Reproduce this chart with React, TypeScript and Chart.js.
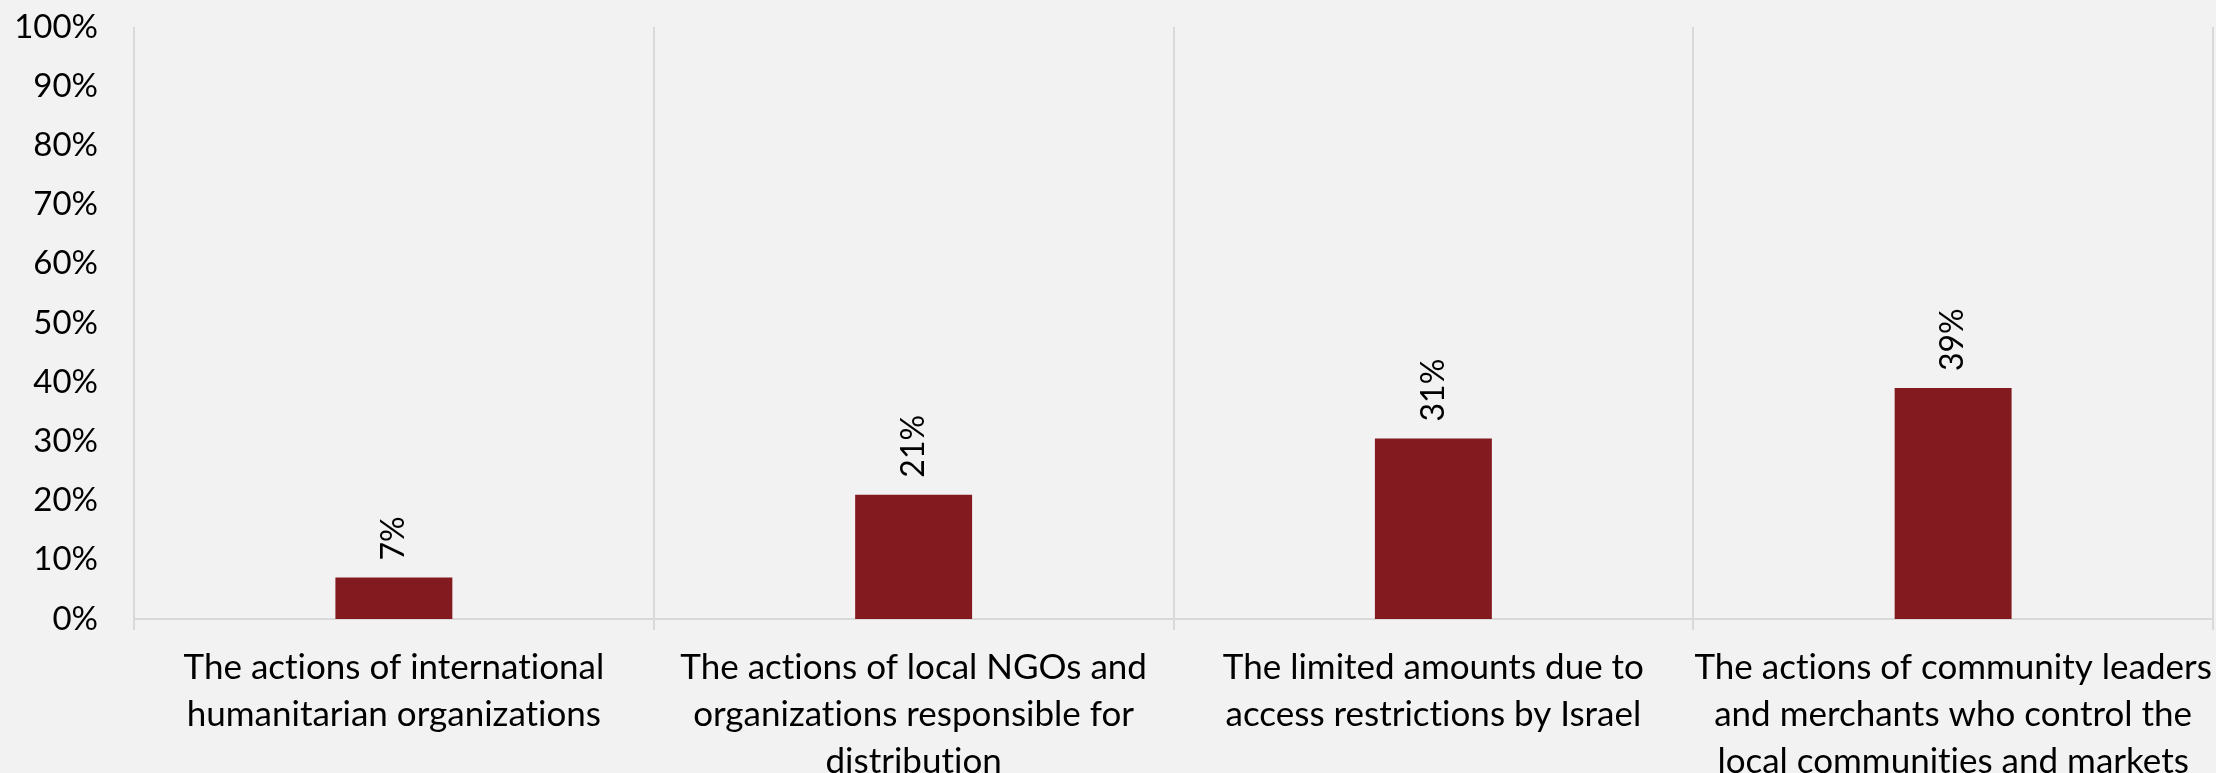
import React, { useEffect, useRef } from "react";
import { Chart, registerables } from "chart.js";

Chart.register(...registerables);

const categories: string[][] = [
  ["The actions of international", "humanitarian organizations"],
  ["The actions of local NGOs and", "organizations responsible for", "distribution"],
  ["The limited amounts due to", "access restrictions by Israel"],
  ["The actions of community leaders", "and merchants who control the", "local communities and markets"],
];
const values: number[] = [7, 21, 30.5, 39];
const yTicks: number[] = [0, 10, 20, 30, 40, 50, 60, 70, 80, 90, 100];

const FONT = "Lato";
const BAR_COLOR = "#831A1F";
const GRID_COLOR = "#D9D9D9";
const BG = "#F2F2F2";

const noLigatures = {
  id: "noLigatures",
  beforeLayout(chart: any) {
    (chart.ctx as any).textRendering = "optimizeSpeed";
  },
  beforeDraw(chart: any) {
    (chart.ctx as any).textRendering = "optimizeSpeed";
  },
};

const valueLabels = {
  id: "valueLabels",
  afterDatasetsDraw(chart: any) {
    const ctx = chart.ctx;
    const meta = chart.getDatasetMeta(0);
    ctx.save();
    ctx.font = `32px ${FONT}`;
    ctx.fillStyle = "#000000";
    ctx.textAlign = "left";
    ctx.textBaseline = "middle";
    meta.data.forEach((bar: any, i: number) => {
      const v = values[i];
      ctx.save();
      ctx.translate(bar.x, bar.y - 17);
      ctx.rotate(-Math.PI / 2);
      ctx.fillText(`${Math.round(v)}%`, 0, 0);
      ctx.restore();
    });
    ctx.restore();
  },
};

export default function App() {
  const ref = useRef<HTMLCanvasElement | null>(null);
  useEffect(() => {
    if (!ref.current) return;
    const chart = new Chart(ref.current, {
      type: "bar",
      data: {
        labels: categories,
        datasets: [
          {
            data: values,
            backgroundColor: BAR_COLOR,
            borderWidth: 0,
            categoryPercentage: 1,
            barPercentage: 0.225,
          },
        ],
      },
      options: {
        animation: false,
        responsive: false,
        devicePixelRatio: 1,
        layout: { padding: { top: 27, right: 3, left: 0, bottom: 0 } },
        plugins: {
          legend: { display: false },
          tooltip: { enabled: false },
        },
        scales: {
          x: {
            offset: true,
            grid: {
              offset: true,
              display: true,
              color: GRID_COLOR,
              lineWidth: 2,
              drawTicks: true,
              tickLength: 11,
              tickColor: GRID_COLOR,
            },
            border: { display: true, color: GRID_COLOR, width: 2 },
            ticks: {
              autoSkip: false,
              maxRotation: 0,
              minRotation: 0,
              padding: 14,
              color: "#000000",
              font: { family: FONT, size: 35, lineHeight: "47px" as any },
            },
            afterFit: (scale: any) => {
              scale.height = 154;
              scale.paddingLeft = 0;
              scale.paddingRight = 0;
            },
          },
          y: {
            min: 0,
            max: 100,
            afterBuildTicks: (scale: any) => {
              scale.ticks = yTicks.map((v) => ({ value: v }));
            },
            grid: { display: false, drawTicks: true, tickLength: 36 },
            border: { display: false },
            ticks: {
              padding: 0,
              color: "#000000",
              font: { family: FONT, size: 33 },
              callback: (v: any) => `${v}%`,
            },
            afterFit: (scale: any) => {
              scale.width = 134;
              scale.paddingTop = 0;
              scale.paddingBottom = 0;
            },
          },
        },
      },
      plugins: [noLigatures, valueLabels],
    });
    return () => chart.destroy();
  }, []);

  return (
    <div
      style={{
        position: "absolute",
        left: 0,
        top: 0,
        width: 2216,
        height: 773,
        background: BG,
      }}
    >
      <canvas ref={ref} width={2216} height={773} style={{ display: "block" }} />
    </div>
  );
}
